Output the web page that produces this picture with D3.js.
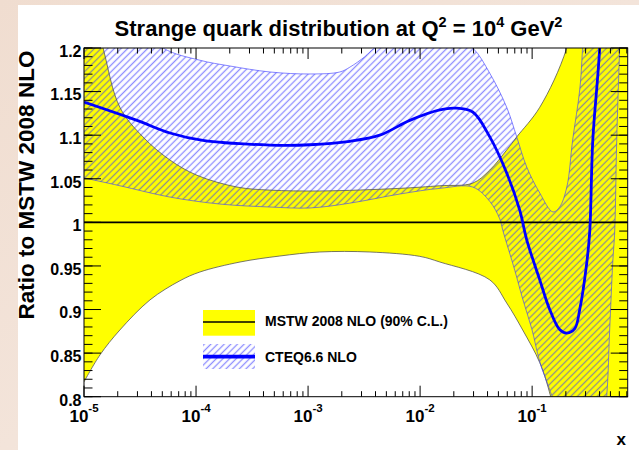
<!DOCTYPE html>
<html>
<head>
<meta charset="utf-8">
<script src="https://cdn.jsdelivr.net/npm/d3@7"></script>
<style>
  body { margin: 0; background: #fff; }
  svg { display: block; font-family: "Liberation Sans", Arial, Helvetica, sans-serif; }
</style>
</head>
<body>
<svg id="chart" width="639" height="450"></svg>
<script>
// Values, as [x, ratio to MSTW 2008 NLO].
var mstwUpper = [[1e-5, 1.29], [1.48e-5, 1.2], [2.09e-5, 1.132], [3.36e-5, 1.098], [5.85e-5, 1.0715],
  [1.02e-4, 1.054], [2.32e-4, 1.0405], [4.56e-4, 1.037], [1.27e-3, 1.036], [6.59e-3, 1.039],
  [0.015, 1.042], [0.0295, 1.045], [0.0419, 1.06], [0.0593, 1.083], [0.0729, 1.098],
  [0.117, 1.132], [0.204, 1.2], [0.3, 1.3], [0.713, 1.45]];
var mstwLower = [[1e-5, 0.817], [1.39e-5, 0.848], [2.09e-5, 0.8765], [3.88e-5, 0.911], [7.18e-5, 0.933],
  [1.08e-4, 0.943], [2.47e-4, 0.9545], [5.6e-4, 0.9614], [1.27e-3, 0.966], [3.56e-3, 0.966],
  [9.93e-3, 0.961], [0.015, 0.9545], [0.0419, 0.934], [0.0593, 0.9075], [0.0824, 0.8765],
  [0.117, 0.839], [0.1465, 0.8], [0.2, 0.72], [0.713, 0.5]];
var mstwCentral = [[1e-5, 1], [0.713, 1]];

var cteqUpper = [[1e-5, 1.30], [2.09e-5, 1.245], [5.07e-5, 1.2], [1.08e-4, 1.186], [2.0e-4, 1.1794],
  [4.56e-4, 1.1725], [1.04e-3, 1.1702], [1.92e-3, 1.1725], [2.36e-3, 1.178], [3.21e-3, 1.19],
  [3.94e-3, 1.2], [9.93e-3, 1.22], [0.0184, 1.215], [0.0295, 1.2], [0.0419, 1.171],
  [0.0593, 1.132], [0.0729, 1.098], [0.0895, 1.0635], [0.117, 1.0337], [0.153, 1.012],
  [0.176, 1.0176], [0.204, 1.0405], [0.23, 1.0945], [0.266, 1.152], [0.282, 1.2],
  [0.35, 1.45], [0.713, 2.0]];
var cteqCentral = [[1e-5, 1.138], [2.97e-5, 1.117], [5.85e-5, 1.1025], [1.15e-4, 1.094], [4.56e-4, 1.0887],
  [1.04e-3, 1.089], [2.36e-3, 1.093], [4.37e-3, 1.1], [8.09e-3, 1.117], [0.015, 1.129],
  [0.0205, 1.131], [0.0295, 1.1266], [0.0419, 1.098], [0.0593, 1.0566], [0.0775, 1.014],
  [0.0895, 0.98], [0.117, 0.934], [0.1435, 0.9], [0.176, 0.877], [0.204, 0.873],
  [0.24, 0.878], [0.266, 0.9], [0.307, 0.953], [0.327, 0.99], [0.348, 1.0945],
  [0.401, 1.2], [0.5, 1.5]];
var cteqLower = [[1e-5, 1.051], [2.09e-5, 1.042], [5.85e-5, 1.029], [1.63e-4, 1.021], [4.56e-4, 1.0176],
  [1.04e-3, 1.0165], [2.36e-3, 1.022], [6.59e-3, 1.0325], [0.015, 1.039], [0.0295, 1.0405],
  [0.0419, 1.024], [0.0514, 1.004], [0.0547, 0.991], [0.07, 0.945], [0.0824, 0.912],
  [0.0992, 0.878], [0.117, 0.84], [0.1435, 0.808], [0.159, 0.79], [0.24, 0.62],
  [0.35, 0.65], [0.463, 0.8], [0.492, 0.876], [0.524, 0.953], [0.546, 0.99],
  [0.569, 1.094], [0.604, 1.2], [0.713, 1.5]];

var xDomain = [1e-5, 0.713];
var yDomain = [0.8, 1.2];
var xMajorExps = [-5, -4, -3, -2, -1];
var yMajorTicks = [0.8, 0.85, 0.9, 0.95, 1, 1.05, 1.1, 1.15, 1.2];
var legendLabels = ['MSTW 2008 NLO (90% C.L.)', 'CTEQ6.6 NLO'];

var svg = d3.select('#chart');
var width = +svg.attr('width');
var height = +svg.attr('height');
var frame = { left: 84, right: 627.7, top: 48, bottom: 396.7 };

// page backdrop: beige strip round a white card
var defs = svg.append('defs');
var bg = defs.append('linearGradient').attr('id', 'bg')
    .attr('x1', 0).attr('y1', 0).attr('x2', 1).attr('y2', 1);
bg.append('stop').attr('offset', 0).attr('stop-color', '#f0ddd0');
bg.append('stop').attr('offset', 1).attr('stop-color', '#f6ebe4');
svg.append('rect').attr('width', width).attr('height', height).attr('fill', 'url(#bg)');
svg.append('rect').attr('x', 18).attr('y', 5).attr('width', width - 18).attr('height', height - 5)
    .attr('fill', '#fff');

var xScale = d3.scaleLog().domain(xDomain).range([frame.left, frame.right]);
var yScale = d3.scaleLinear().domain(yDomain).range([frame.bottom, frame.top]);

var hatch = defs.append('pattern').attr('id', 'hatch')
    .attr('patternUnits', 'userSpaceOnUse')
    .attr('width', 4.7).attr('height', 4.7)
    .attr('patternTransform', 'rotate(45)');
hatch.append('line')
    .attr('x1', 2.35).attr('y1', 0).attr('x2', 2.35).attr('y2', 4.7)
    .attr('stroke', '#3030ff').attr('stroke-opacity', 0.55).attr('stroke-width', 1.3);

defs.append('clipPath').attr('id', 'plotClip')
  .append('rect')
    .attr('x', frame.left).attr('y', frame.top)
    .attr('width', frame.right - frame.left).attr('height', frame.bottom - frame.top);

var curve = d3.curveCatmullRom.alpha(0.5);
var xOf = function (d) { return xScale(d[0]); };
var line = d3.line().x(xOf).y(function (d) { return yScale(d[1]); }).curve(curve);
// area under an upper edge, and area above a lower edge; the band is their overlap
var below = d3.area().x(xOf).y1(function (d) { return yScale(d[1]); }).y0(height + 500)
    .curve(curve);
var above = d3.area().x(xOf).y1(function (d) { return yScale(d[1]); }).y0(-500)
    .curve(curve);

function band(id, upper, lower, fill) {
  defs.append('clipPath').attr('id', id).append('path').attr('d', above(lower));
  plotG.append('g').attr('clip-path', 'url(#' + id + ')')
    .append('path').attr('d', below(upper)).attr('fill', fill);
}

var plotG = svg.append('g').attr('clip-path', 'url(#plotClip)');

band('mstwClip', mstwUpper, mstwLower, '#ffff00');
band('cteqClip', cteqUpper, cteqLower, 'url(#hatch)');

[mstwUpper, mstwLower].forEach(function (d) {
  plotG.append('path').attr('d', line(d)).attr('fill', 'none')
      .attr('stroke', '#555').attr('stroke-width', 0.8);
});
[cteqUpper, cteqLower].forEach(function (d) {
  plotG.append('path').attr('d', line(d)).attr('fill', 'none')
      .attr('stroke', '#4040ff').attr('stroke-opacity', 0.8).attr('stroke-width', 0.8);
});
plotG.append('path').attr('d', line(mstwCentral)).attr('fill', 'none')
    .attr('stroke', '#000').attr('stroke-width', 1.6);
plotG.append('path').attr('d', line(cteqCentral)).attr('fill', 'none')
    .attr('stroke', '#0000ff').attr('stroke-width', 2.8);

// frame
svg.append('rect')
    .attr('x', frame.left).attr('y', frame.top)
    .attr('width', frame.right - frame.left).attr('height', frame.bottom - frame.top)
    .attr('fill', 'none').attr('stroke', '#000').attr('stroke-width', 1);

// ticks on all four sides
var xMajor = xMajorExps.map(function (e) { return Math.pow(10, e); });
var xMinor = [];
xMajorExps.forEach(function (e) {
  d3.range(2, 10).forEach(function (m) {
    var v = m * Math.pow(10, e);
    if (v <= xDomain[1]) xMinor.push(v);
  });
});
var yMinor = d3.range(80, 121).map(function (i) { return i / 100; });

var ticksG = svg.append('g').attr('stroke', '#000').attr('stroke-width', 1);
function vTicks(values, len) {
  values.forEach(function (v) {
    var x = xScale(v);
    ticksG.append('line').attr('x1', x).attr('x2', x)
        .attr('y1', frame.bottom).attr('y2', frame.bottom - len);
    ticksG.append('line').attr('x1', x).attr('x2', x)
        .attr('y1', frame.top).attr('y2', frame.top + len);
  });
}
function hTicks(values, len) {
  values.forEach(function (v) {
    var y = yScale(v);
    ticksG.append('line').attr('y1', y).attr('y2', y)
        .attr('x1', frame.left).attr('x2', frame.left + len);
    ticksG.append('line').attr('y1', y).attr('y2', y)
        .attr('x1', frame.right).attr('x2', frame.right - len);
  });
}
vTicks(xMajor, 11);
vTicks(xMinor, 5.5);
hTicks(yMajorTicks, 17);
hTicks(yMinor, 8.5);

// tick labels
var labelsG = svg.append('g').attr('font-weight', 'bold').attr('fill', '#000');
yMajorTicks.forEach(function (v) {
  labelsG.append('text')
      .attr('x', 81.5).attr('y', yScale(v) + 8.8)
      .attr('text-anchor', 'end').attr('font-size', 16)
      .text(String(v));
});
xMajorExps.forEach(function (e) {
  var t = labelsG.append('text')
      .attr('x', xScale(Math.pow(10, e))).attr('y', 421.7)
      .attr('text-anchor', 'middle').attr('font-size', 17);
  t.append('tspan').text('10');
  t.append('tspan').attr('font-size', 11.5).attr('dy', -9.5).text(String(e));
});

labelsG.append('text')
    .attr('x', 626).attr('y', 445).attr('text-anchor', 'end')
    .attr('font-size', 17).text('x');

labelsG.append('text')
    .attr('transform', 'translate(33.5,185) rotate(-90)')
    .attr('text-anchor', 'middle').attr('font-size', 22.5)
    .text('Ratio to MSTW 2008 NLO');

// title with superscripts
var title = labelsG.append('text')
    .attr('x', 338.5).attr('y', 36).attr('text-anchor', 'middle').attr('font-size', 22);
title.append('tspan').text('Strange quark distribution at Q');
title.append('tspan').attr('font-size', 14.5).attr('dy', -9).text('2');
title.append('tspan').attr('dy', 9).text(' = 10');
title.append('tspan').attr('font-size', 14.5).attr('dy', -9).text('4');
title.append('tspan').attr('dy', 9).text(' GeV');
title.append('tspan').attr('font-size', 14.5).attr('dy', -9).text('2');

// legend
var legendG = svg.append('g');
legendG.append('rect').attr('x', 203).attr('y', 310).attr('width', 52).attr('height', 25.7)
    .attr('fill', '#ffff00');
legendG.append('line').attr('x1', 203).attr('x2', 255).attr('y1', 322).attr('y2', 322)
    .attr('stroke', '#000').attr('stroke-width', 1.6);
legendG.append('rect').attr('x', 203).attr('y', 344).attr('width', 52).attr('height', 25)
    .attr('fill', 'url(#hatch)');
legendG.append('line').attr('x1', 203).attr('x2', 255).attr('y1', 356.6).attr('y2', 356.6)
    .attr('stroke', '#0000ff').attr('stroke-width', 3.6);
legendG.selectAll('text').data(legendLabels).enter().append('text')
    .attr('x', 265)
    .attr('y', function (d, i) { return i === 0 ? 326 : 362.3; })
    .attr('font-size', 14).attr('font-weight', 'bold')
    .text(function (d) { return d; });
</script>
</body>
</html>
